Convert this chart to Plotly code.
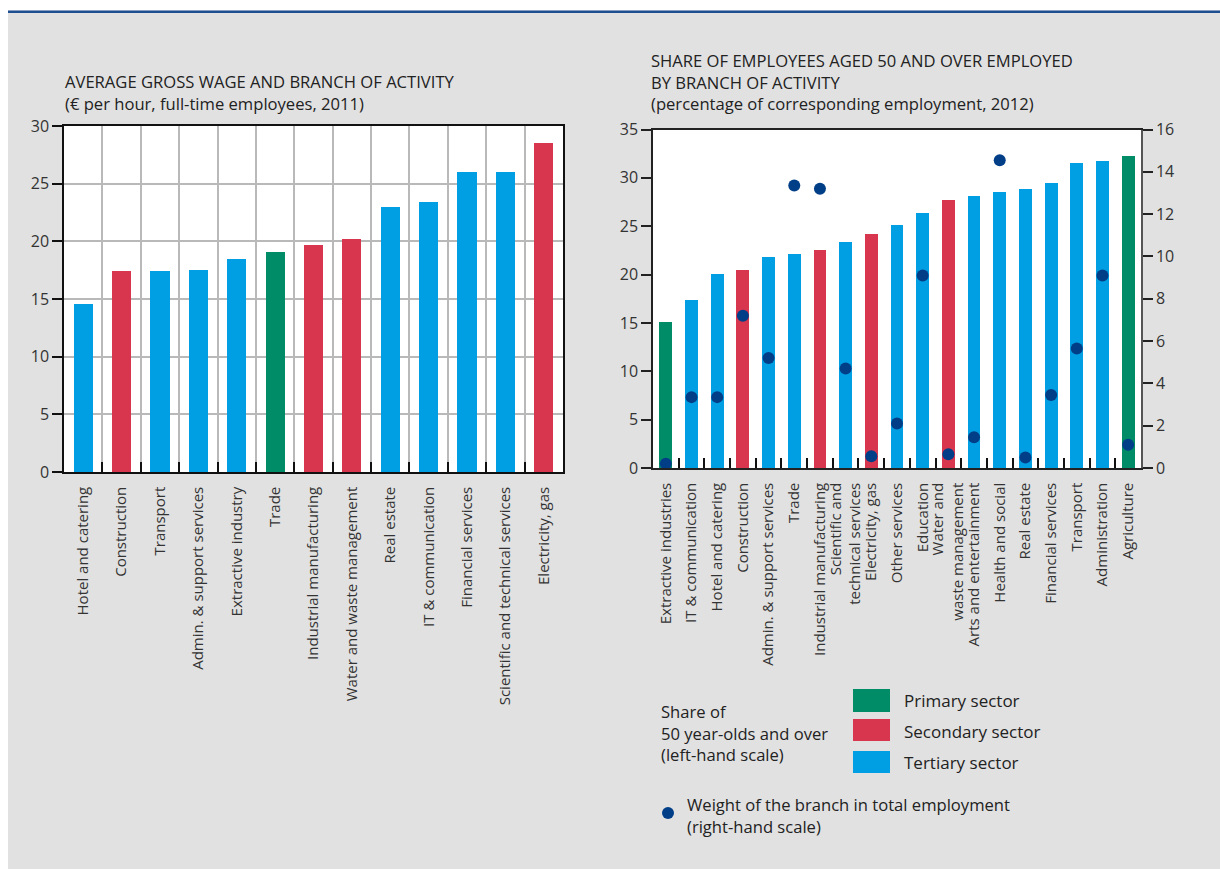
import plotly.graph_objects as go

# ---------------- data ----------------
wage_categories = ["Hotel and catering", "Construction", "Transport", "Admin. & support services",
                   "Extractive industry", "Trade", "Industrial manufacturing", "Water and waste management",
                   "Real estate", "IT & communication", "Financial services",
                   "Scientific and technical services", "Electricity, gas"]
wage_values = [14.6, 17.4, 17.45, 17.55, 18.5, 19.1, 19.7, 20.2, 23.0, 23.4, 26.0, 26.0, 28.5]
wage_sectors = ["T", "S", "T", "T", "T", "P", "S", "S", "T", "T", "T", "T", "S"]

age_categories = ["Extractive industries", "IT & communication", "Hotel and catering", "Construction",
                  "Admin. & support services", "Trade", "Industrial manufacturing",
                  "Scientific and<br>technical services", "Electricity, gas", "Other services",
                  "Education", "Water and<br>waste management", "Arts and entertainment",
                  "Health and social", "Real estate", "Financial services", "Transport",
                  "Administration", "Agriculture"]
age_share = [15.15, 17.4, 20.1, 20.5, 21.85, 22.15, 22.6, 23.4, 24.2, 25.15, 26.4, 27.8, 28.15,
             28.55, 28.85, 29.5, 31.55, 31.75, 32.35]
age_weight = [0.2, 3.35, 3.35, 7.2, 5.2, 13.35, 13.2, 4.7, 0.55, 2.1, 9.1, 0.65, 1.45, 14.55,
              0.5, 3.45, 5.65, 9.1, 1.1]
age_sectors = ["P", "T", "T", "S", "T", "T", "S", "T", "S", "T", "T", "S", "T", "T", "T", "T", "T", "T", "P"]

left_ticks = [0, 5, 10, 15, 20, 25, 30]
right_ticks_left = [0, 5, 10, 15, 20, 25, 30, 35]
right_ticks_right = [0, 2, 4, 6, 8, 10, 12, 14, 16]

sector_colors = {"P": "#008c66", "S": "#d7364e", "T": "#009fe3"}
DOT = "#003f87"
BG = "#e1e1e1"
FONT = "Open Sans"
TXT = "#222222"

W, H = 1220, 869
def px(x):
    return x / W
def py(y):
    return 1 - y / H

fig = go.Figure()

fig.add_trace(go.Bar(x=wage_categories, y=wage_values,
                     marker=dict(color=[sector_colors[s] for s in wage_sectors], line=dict(width=0)),
                     width=0.5, xaxis="x", yaxis="y", showlegend=False))

fig.add_trace(go.Bar(x=age_categories, y=age_share,
                     marker=dict(color=[sector_colors[s] for s in age_sectors], line=dict(width=0)),
                     width=0.5, xaxis="x2", yaxis="y2", showlegend=False))

fig.add_trace(go.Scatter(x=age_categories, y=age_weight, mode="markers",
                         marker=dict(color=DOT, size=12, line=dict(width=0)),
                         xaxis="x2", yaxis="y3", showlegend=False, cliponaxis=False))

tickfont = dict(family=FONT, size=16, color="#333333")
catfont = dict(family=FONT, size=15, color="#333333")

fig.update_layout(
    template="none",
    width=W, height=H, autosize=False,
    margin=dict(l=0, r=0, t=0, b=0, pad=0, autoexpand=False),
    paper_bgcolor=BG, plot_bgcolor="white",
    font=dict(family=FONT, color=TXT),
    showlegend=False,
    bargap=0,
    xaxis=dict(domain=[px(64), px(563)], type="category", tickson="boundaries",
               range=[-0.5, len(wage_categories) - 0.5], automargin=False,
               showgrid=True, gridcolor="#b9b9b9", gridwidth=1.5,
               ticks="inside", ticklen=10, tickcolor="#111111", tickwidth=1.5,
               showline=True, linecolor="#111111", linewidth=1.5, mirror=True,
               tickangle=-90, tickfont=catfont, ticklabelstandoff=7, anchor="y"),
    yaxis=dict(domain=[py(472), py(126)], range=[0, 30], tickvals=left_ticks, automargin=False,
               showgrid=True, gridcolor="#b9b9b9", gridwidth=1.5, zeroline=False,
               ticks="outside", ticklen=10, tickcolor="#111111", tickwidth=1.5,
               showline=True, linecolor="#111111", linewidth=1.5, mirror=True,
               tickfont=tickfont, anchor="x"),
    xaxis2=dict(domain=[px(653), px(1141)], type="category", tickson="boundaries",
                range=[-0.5, len(age_categories) - 0.5], automargin=False,
                showgrid=False,
                ticks="inside", ticklen=10, tickcolor="#111111", tickwidth=1.5,
                showline=True, linecolor="#222222", linewidth=1.5, mirror=True,
                tickangle=-90, tickfont=catfont, ticklabelstandoff=7, anchor="y2"),
    yaxis2=dict(domain=[py(468), py(129.5)], range=[0, 35], tickvals=right_ticks_left, automargin=False,
                showgrid=False, zeroline=False,
                ticks="outside", ticklen=10, tickcolor="#222222", tickwidth=1.5,
                showline=True, linecolor="#222222", linewidth=1.5,
                tickfont=tickfont, anchor="x2"),
    yaxis3=dict(range=[0, 16], tickvals=right_ticks_right, overlaying="y2", side="right", automargin=False,
                showgrid=False, zeroline=False,
                ticks="outside", ticklen=10, tickcolor="#222222", tickwidth=1.5,
                showline=True, linecolor="#555555", linewidth=1.5,
                tickfont=tickfont, anchor="x2"),
)

shapes = [
    # white outer margins and blue top rule
    dict(type="rect", xref="paper", yref="paper", x0=0, x1=px(8), y0=0, y1=1,
         fillcolor="white", line=dict(width=0), layer="above"),
    dict(type="rect", xref="paper", yref="paper", x0=0, x1=1, y0=py(10.5), y1=1,
         fillcolor="white", line=dict(width=0), layer="above"),
    dict(type="rect", xref="paper", yref="paper", x0=px(8), x1=1, y0=py(13), y1=py(10.5),
         fillcolor="#1d4f91", line=dict(width=0), layer="above"),
    # legend swatches
    dict(type="rect", xref="paper", yref="paper", x0=px(853), x1=px(890), y0=py(712), y1=py(689),
         fillcolor=sector_colors["P"], line=dict(width=0)),
    dict(type="rect", xref="paper", yref="paper", x0=px(853), x1=px(890), y0=py(741), y1=py(719),
         fillcolor=sector_colors["S"], line=dict(width=0)),
    dict(type="rect", xref="paper", yref="paper", x0=px(853), x1=px(890), y0=py(773), y1=py(751),
         fillcolor=sector_colors["T"], line=dict(width=0)),
    dict(type="circle", xref="paper", yref="paper", x0=px(662), x1=px(674), y0=py(819), y1=py(807),
         fillcolor=DOT, line=dict(width=0)),
]
fig.update_layout(shapes=shapes)

def label(text, x, y, size=17):
    fig.add_annotation(text=text, xref="paper", yref="paper", x=px(x), y=py(y),
                       xanchor="left", yanchor="middle", align="left", showarrow=False,
                       font=dict(family=FONT, size=size, color=TXT))

label("AVERAGE GROSS WAGE AND BRANCH OF ACTIVITY<br>(€ per hour, full-time employees, 2011)",
      63, 92.5, 16.6)
label("SHARE OF EMPLOYEES AGED 50 AND OVER EMPLOYED<br>BY BRANCH OF ACTIVITY<br>"
      "(percentage of corresponding employment, 2012)", 649, 82, 16.6)

label("Share of<br>50 year-olds and over<br>(left-hand scale)", 659, 733, 16.6)
label("Primary sector", 902, 700)
label("Secondary sector", 902, 731)
label("Tertiary sector", 902, 762)
label("Weight of the branch in total employment<br>(right-hand scale)", 685, 815.5, 16.6)

fig.write_html("out.html")
